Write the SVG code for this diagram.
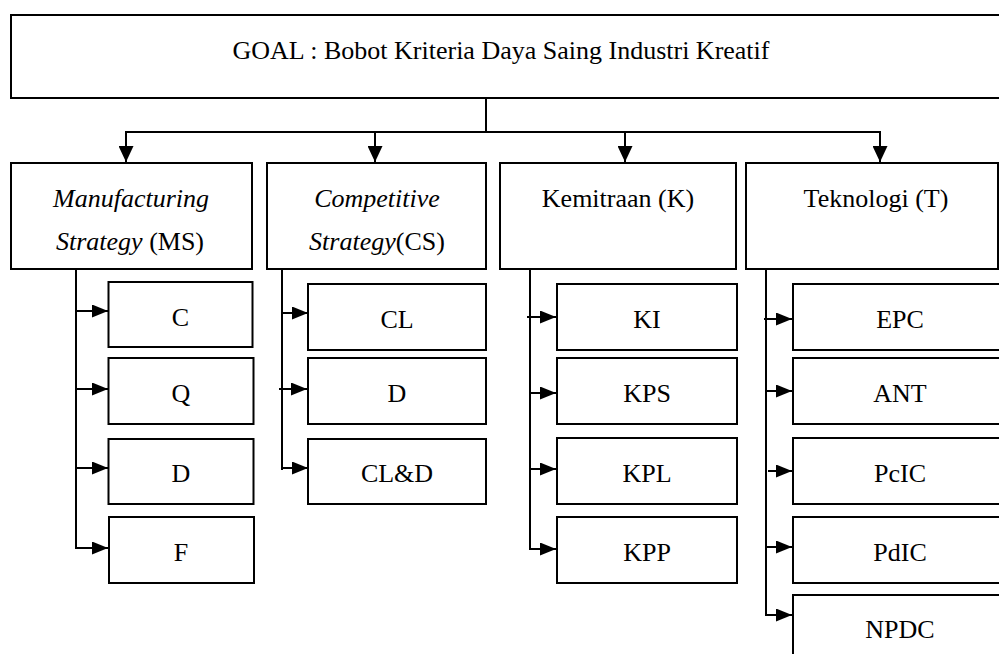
<svg xmlns="http://www.w3.org/2000/svg" width="999" height="654" viewBox="0 0 999 654">
<style>
.box{fill:#fff;stroke:#000;stroke-width:2}
.t{font-family:"Liberation Serif","Times New Roman",serif;font-size:26px;fill:#000;text-anchor:middle}
.i{font-style:italic}
.c{fill:none;stroke:#000;stroke-width:2}
</style>
<defs>
<marker id="ah" markerUnits="userSpaceOnUse" markerWidth="16" markerHeight="15" refX="16" refY="7.5" orient="auto"><path d="M0,0 L16,7.5 L0,15 z" fill="#000"/></marker>
<marker id="ahs" markerUnits="userSpaceOnUse" markerWidth="16" markerHeight="13" refX="16" refY="6.5" orient="auto"><path d="M0,0 L16,6.5 L0,13 z" fill="#000"/></marker>
</defs>
<rect width="999" height="654" fill="#fff"/>
<g id="connectors">
<path class="c" d="M486,98 V132 M125,132 H881"/>
<path class="c" d="M126,132 V162" marker-end="url(#ah)"/>
<path class="c" d="M375,132 V162" marker-end="url(#ah)"/>
<path class="c" d="M625,132 V162" marker-end="url(#ah)"/>
<path class="c" d="M880,132 V162" marker-end="url(#ah)"/>
<path class="c" d="M76,269 V548"/>
<path class="c" d="M77,311 H108" marker-end="url(#ahs)"/>
<path class="c" d="M77,389 H108" marker-end="url(#ahs)"/>
<path class="c" d="M77,468 H108" marker-end="url(#ahs)"/>
<path class="c" d="M75,548 H108" marker-end="url(#ahs)"/>
<path class="c" d="M282,269 V470"/>
<path class="c" d="M281,313 H308" marker-end="url(#ahs)"/>
<path class="c" d="M279,389 H307" marker-end="url(#ahs)"/>
<path class="c" d="M281,468 H308" marker-end="url(#ahs)"/>
<path class="c" d="M530,269 V549"/>
<path class="c" d="M527,317 H556" marker-end="url(#ahs)"/>
<path class="c" d="M530,393 H556" marker-end="url(#ahs)"/>
<path class="c" d="M530,469 H556" marker-end="url(#ahs)"/>
<path class="c" d="M529,549 H556" marker-end="url(#ahs)"/>
<path class="c" d="M766,269 V616"/>
<path class="c" d="M764,319 H792" marker-end="url(#ahs)"/>
<path class="c" d="M766,391 H792" marker-end="url(#ahs)"/>
<path class="c" d="M768,471 H792" marker-end="url(#ahs)"/>
<path class="c" d="M766,547 H792" marker-end="url(#ahs)"/>
<path class="c" d="M765,615 H792" marker-end="url(#ahs)"/>
</g>
<g id="goal"><rect class="box" x="11" y="15" width="1000" height="83"/><text class="t" x="501" y="59">GOAL : Bobot Kriteria Daya Saing Industri Kreatif</text></g>
<g id="ms"><rect class="box" x="11" y="163" width="241" height="106"/><text class="t i" x="131" y="207">Manufacturing</text><text class="t" x="130" y="250"><tspan class="i">Strategy</tspan> (MS)</text></g>
<g id="cs"><rect class="box" x="267" y="163" width="219" height="106"/><text class="t i" x="377" y="207">Competitive</text><text class="t" x="377" y="250"><tspan class="i">Strategy</tspan>(CS)</text></g>
<g id="k"><rect class="box" x="500" y="163" width="236" height="106"/><text class="t" x="618" y="207">Kemitraan (K)</text></g>
<g id="tk"><rect class="box" x="746" y="163" width="252" height="106"/><text class="t" x="876" y="207">Teknologi (T)</text></g>
<g id="ms-c"><rect class="box" x="108.5" y="282" width="144" height="65"/><text class="t" x="180.5" y="326">C</text></g>
<g id="ms-q"><rect class="box" x="108.5" y="358" width="145" height="66"/><text class="t" x="181" y="402">Q</text></g>
<g id="ms-d"><rect class="box" x="108.5" y="439" width="145" height="65"/><text class="t" x="181" y="482">D</text></g>
<g id="ms-f"><rect class="box" x="109" y="517" width="145" height="66"/><text class="t" x="181" y="561">F</text></g>
<g id="cs-cl"><rect class="box" x="308" y="284" width="178" height="66"/><text class="t" x="397" y="328">CL</text></g>
<g id="cs-d"><rect class="box" x="308" y="358" width="178" height="66"/><text class="t" x="397" y="402">D</text></g>
<g id="cs-cld"><rect class="box" x="308" y="439" width="178" height="65"/><text class="t" x="397" y="482">CL&amp;D</text></g>
<g id="k-ki"><rect class="box" x="557" y="284" width="180" height="66"/><text class="t" x="647" y="328">KI</text></g>
<g id="k-kps"><rect class="box" x="557" y="358" width="180" height="66"/><text class="t" x="647" y="402">KPS</text></g>
<g id="k-kpl"><rect class="box" x="557" y="438" width="180" height="66"/><text class="t" x="647" y="482">KPL</text></g>
<g id="k-kpp"><rect class="box" x="557" y="517" width="180" height="66"/><text class="t" x="647" y="561">KPP</text></g>
<g id="t-epc"><rect class="box" x="793" y="284" width="230" height="66"/><text class="t" x="900" y="328">EPC</text></g>
<g id="t-ant"><rect class="box" x="793" y="358" width="230" height="66"/><text class="t" x="900" y="402">ANT</text></g>
<g id="t-pcic"><rect class="box" x="793" y="438" width="230" height="66"/><text class="t" x="900" y="482">PcIC</text></g>
<g id="t-pdic"><rect class="box" x="793" y="517" width="230" height="66"/><text class="t" x="900" y="561">PdIC</text></g>
<g id="t-npdc"><rect class="box" x="793" y="595" width="230" height="80"/><text class="t" x="900" y="638">NPDC</text></g>
</svg>
